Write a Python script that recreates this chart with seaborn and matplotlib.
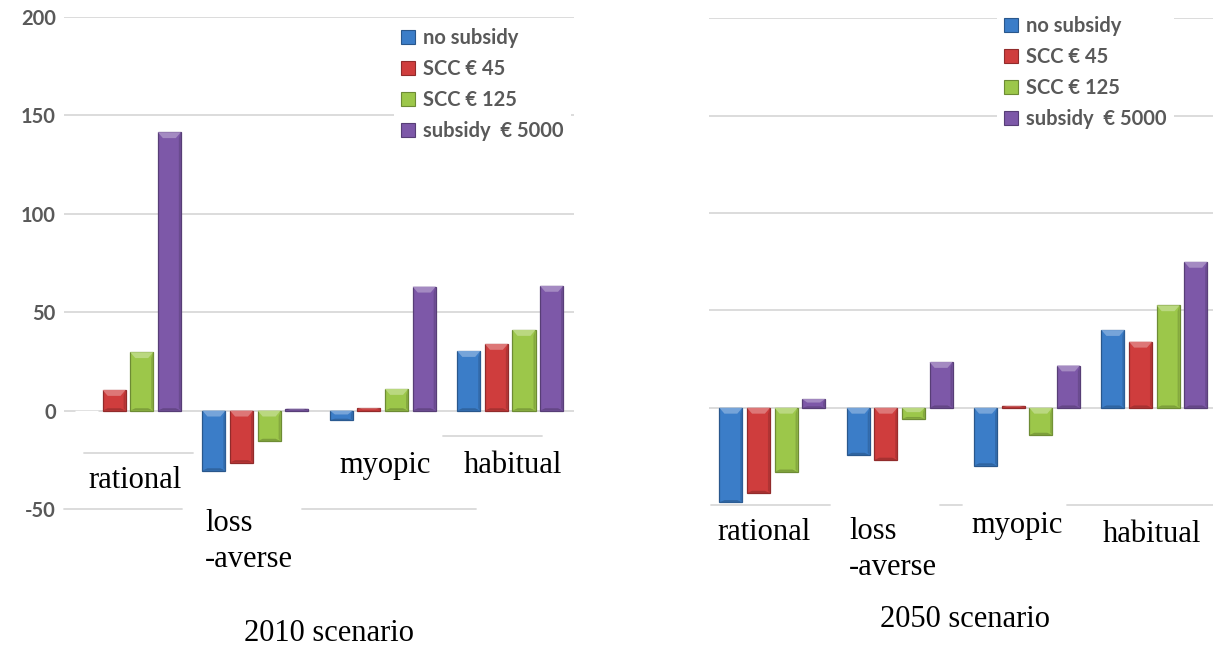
import matplotlib
matplotlib.use("Agg")
import matplotlib.pyplot as plt
from matplotlib.patches import Polygon, Rectangle
from matplotlib.colors import to_rgb
import numpy as np
import pandas as pd
import seaborn as sns

# ---- data -------------------------------------------------------------
categories = ["rational", "loss-averse", "myopic", "habitual"]
policies = ["no subsidy", "SCC € 45", "SCC € 125", "subsidy  € 5000"]

no_subsidy_2010 = [0.0, -30.5, -4.9, 30.3]
scc45_2010 = [10.5, -26.4, 1.2, 33.9]
scc125_2010 = [29.7, -15.5, 11.0, 41.0]
subsidy5000_2010 = [141.5, 1.0, 63.0, 63.4]

no_subsidy_2050 = [-48.6, -24.3, -29.7, 39.9]
scc45_2050 = [-43.8, -26.8, 1.0, 33.9]
scc125_2050 = [-32.9, -5.6, -14.0, 52.6]
subsidy5000_2050 = [4.5, 23.5, 21.7, 74.9]

y_ticks = [-50, 0, 50, 100, 150, 200]
scenario_titles = ["2010 scenario", "2050 scenario"]

colors = ["#3b7dc8", "#cf3d3d", "#9cc74a", "#7d58a8"]


def long_frame(series):
    rows = []
    for pol, vals in zip(policies, series):
        for cat, v in zip(categories, vals):
            rows.append({"behaviour": cat, "policy": pol, "value": v})
    return pd.DataFrame(rows)


df2010 = long_frame([no_subsidy_2010, scc45_2010, scc125_2010, subsidy5000_2010])
df2050 = long_frame([no_subsidy_2050, scc45_2050, scc125_2050, subsidy5000_2050])

sns.set_theme(style="white")
plt.rcParams["font.family"] = ["Lato", "DejaVu Sans"]

W, H = 1213, 649
fig = plt.figure(figsize=(W / 100, H / 100), dpi=100)
fig.patch.set_facecolor("white")


def fx(px):
    return px / W


def fy(py):
    return 1 - py / H


ax1 = fig.add_axes([fx(64.2), fy(509), fx(509.7), (509 - 17.1) / H])
ax2 = fig.add_axes([fx(708.6), fy(505.2), fx(509.4), (505.2 - 18.2) / H])

grid_col = "#d9d9d9"


def shade(c, f):
    r = np.array(to_rgb(c))
    if f >= 0:
        return tuple(r + (1 - r) * f)
    return tuple(r * (1 + f))


def bevel_bars(ax, depth):
    for p in list(ax.patches):
        x, w = p.get_x(), p.get_width()
        y0, h = p.get_y(), p.get_height()
        if abs(h) < 1e-9:
            continue
        base = p.get_facecolor()
        p.set_edgecolor(shade(base, -0.3))
        p.set_linewidth(0.9)
        top = max(y0, y0 + h)
        bot = min(y0, y0 + h)
        d = min(depth, (top - bot) / 2.5)
        ins = 0.22 * w
        z = p.get_zorder() + 0.1
        hi = Polygon([(x, top), (x + w, top), (x + w - ins, top - d), (x + ins, top - d)],
                     closed=True, facecolor=shade(base, 0.3), edgecolor="none", zorder=z)
        lo = Polygon([(x, bot), (x + w, bot), (x + w - ins, bot + d * 0.4), (x + ins, bot + d * 0.4)],
                     closed=True, facecolor=shade(base, -0.2), edgecolor="none", zorder=z)
        side = Polygon([(x + w, top), (x + w - ins * 0.4, top - d), (x + w - ins * 0.4, bot + d * 0.4), (x + w, bot)],
                       closed=True, facecolor=shade(base, -0.15), edgecolor="none", zorder=z)
        ax.add_patch(side)
        ax.add_patch(hi)
        ax.add_patch(lo)


for ax, df in [(ax1, df2010), (ax2, df2050)]:
    sns.barplot(data=df, x="behaviour", y="value", hue="policy", hue_order=policies,
                order=categories, palette=colors, width=0.867, gap=0.167,
                errorbar=None, ax=ax, zorder=3, saturation=1)
    ax.set_xlim(-0.5, 3.5)
    ax.set_ylim(-50, 200)
    ax.set_xlabel("")
    ax.set_ylabel("")
    ax.set_xticks([])
    for s in ax.spines.values():
        s.set_visible(False)
    ax.set_facecolor("none")
    ax.get_legend().remove()
    for yv in y_ticks[1:]:
        ax.axhline(yv, color=grid_col, lw=1.3, zorder=1)

bevel_bars(ax1, 3.0)
bevel_bars(ax2, 3.0)

# partially hidden bottom gridline and label-box remnants
for a, b in [(0.0, 0.2305), (0.466, 0.808)]:
    ax1.axhline(-50, xmin=a, xmax=b, color=grid_col, lw=1.3, zorder=1, clip_on=False)
ax1.axhline(-21.6, xmin=0.039, xmax=0.253, color=grid_col, lw=1.3, zorder=1)
ax1.axhline(-12.9, xmin=0.743, xmax=0.937, color=grid_col, lw=1.3, zorder=1)
for a, b in [(0.004, 0.238), (0.455, 0.497), (0.703, 1.0)]:
    ax2.axhline(-50, xmin=a, xmax=b, color=grid_col, lw=1.3, zorder=1, clip_on=False)

# y axis (left panel only)
ax1.set_yticks(y_ticks)
ax1.set_yticklabels([str(t) for t in y_ticks], fontsize=14.5, fontweight="bold", color="#595959")
ax1.tick_params(axis="y", length=0, pad=6)
ax2.set_yticks([])

# category labels (y is the baseline of the last line)
label_font = dict(family=["Liberation Serif", "DejaVu Serif"], fontsize=22, color="black")
pos_2010 = [(0.056, -39.3, "center"), (0.605, -79.4, "left"), (2.016, -31.7, "center"), (3.02, -31.7, "center")]
pos_2050 = [(-0.065, -67.9, "center"), (0.602, -85.7, "left"), (1.922, -64.4, "center"), (2.983, -68.7, "center")]
for ax, pos in [(ax1, pos_2010), (ax2, pos_2050)]:
    for cat, (xv, yv, ha) in zip(categories, pos):
        txt = cat.replace("-", "\n-")
        ax.text(xv, yv, txt, ha=ha, va="baseline", linespacing=1.32, clip_on=False, zorder=5, **label_font)

fig.text(fx(328.7), fy(640.7), scenario_titles[0], ha="center", va="baseline", **label_font)
fig.text(fx(965), fy(626.7), scenario_titles[1], ha="center", va="baseline", **label_font)

# legends
handles = [Rectangle((0, 0), 1, 1, facecolor=c, edgecolor=shade(c, -0.3), lw=0.8) for c in colors]
for ax, (lx, ly) in [(ax1, (384, 11)), (ax2, (987, -1))]:
    leg = fig.legend(handles, policies, loc="upper left", bbox_to_anchor=(fx(lx), fy(ly)),
                     frameon=True, facecolor="white", edgecolor="none", framealpha=1,
                     fancybox=False, borderpad=0.35, handlelength=0.7, handleheight=0.7,
                     handletextpad=0.4, labelspacing=0.55,
                     prop=dict(family=["Lato", "DejaVu Sans"], weight="bold", size=14.5))
    for t in leg.get_texts():
        t.set_color("#595959")

fig.savefig("out.png", dpi=100, facecolor="white")
